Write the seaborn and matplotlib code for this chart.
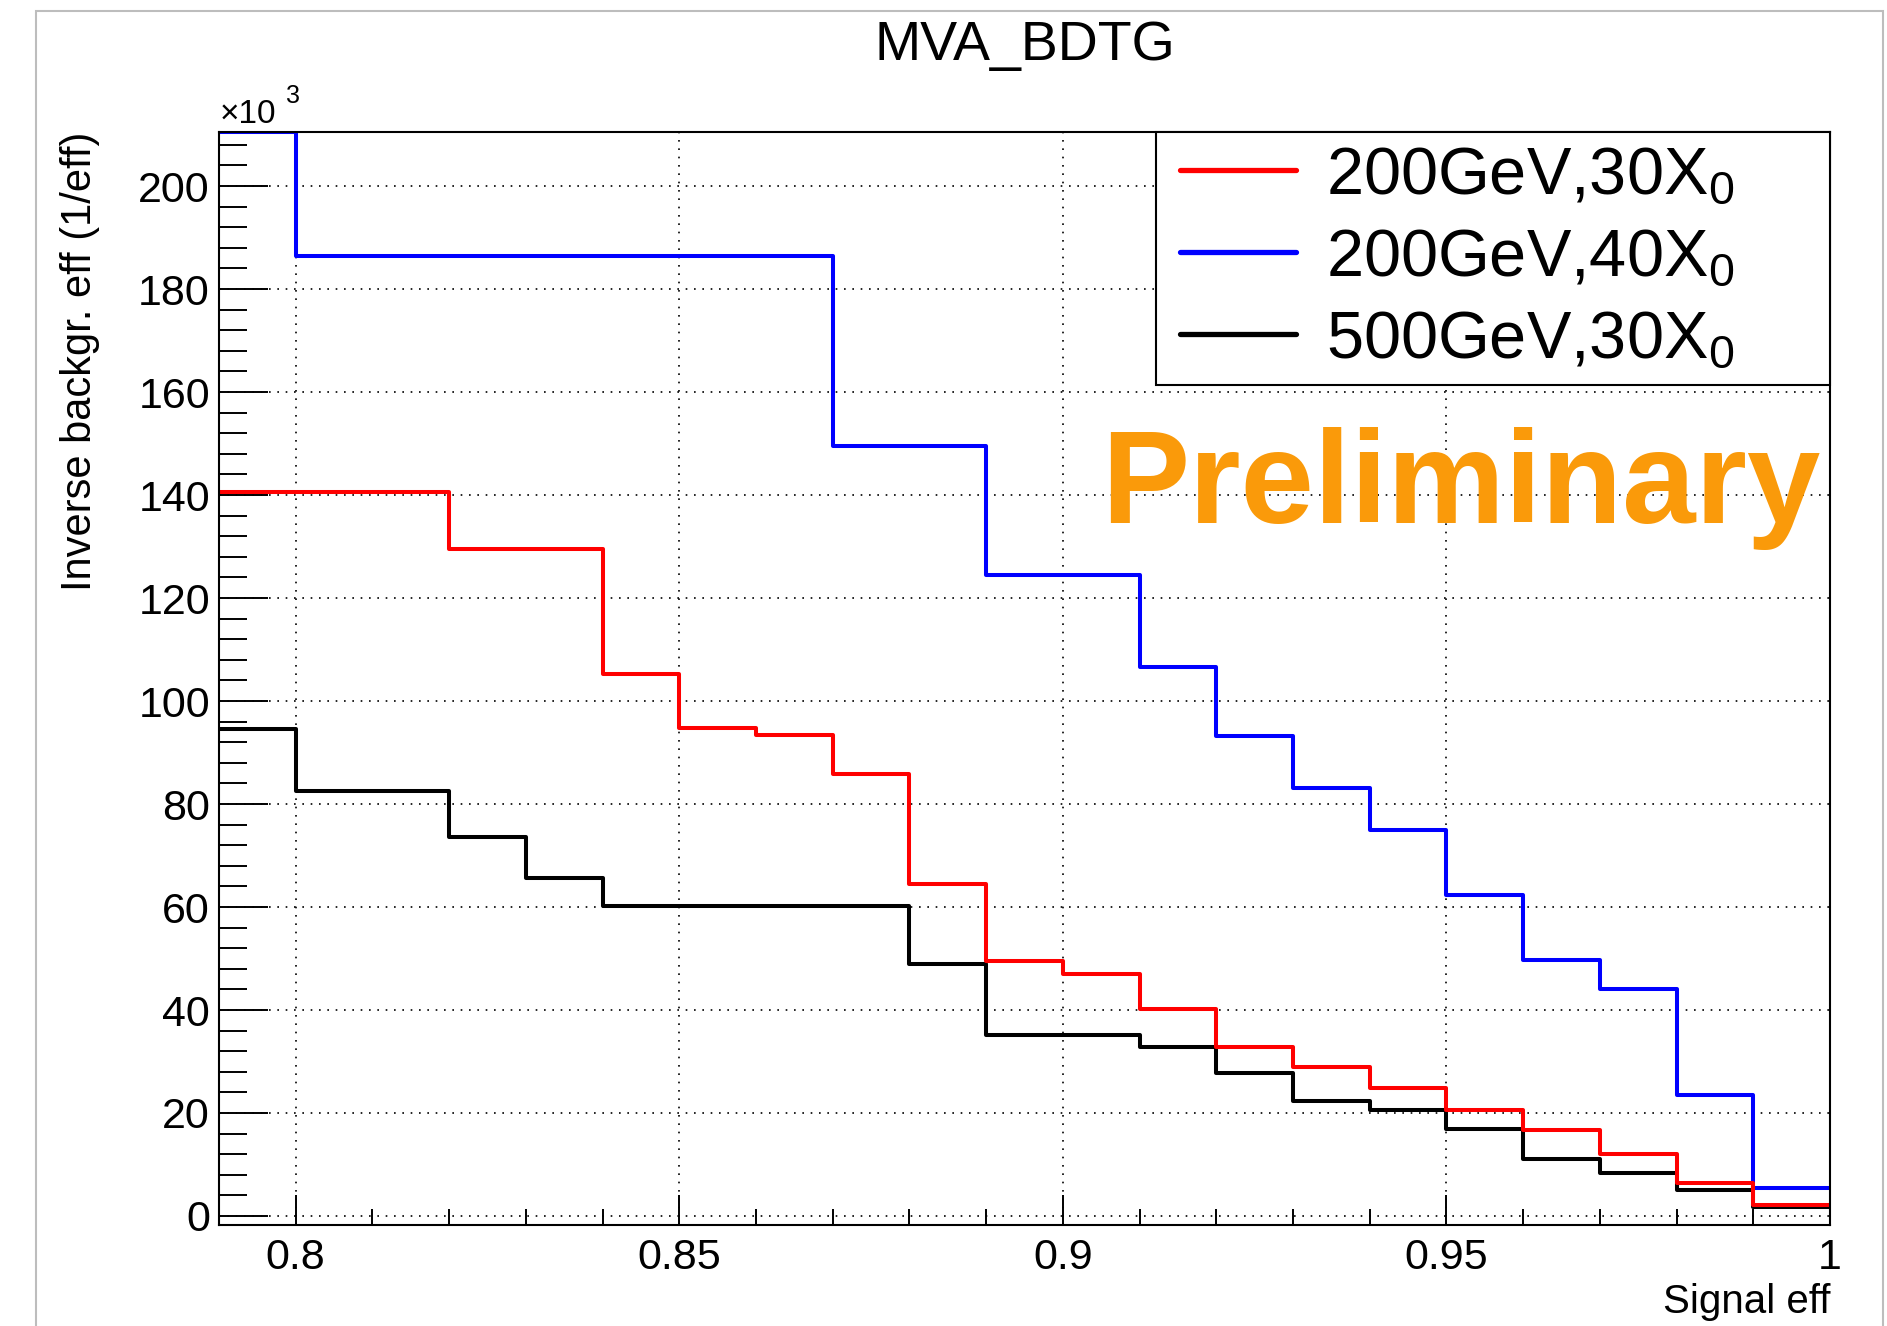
import matplotlib
matplotlib.use("Agg")
import matplotlib.pyplot as plt
from matplotlib.patches import Rectangle
from matplotlib.ticker import MultipleLocator, FuncFormatter
import pandas as pd
import seaborn as sns

# Signal-efficiency bin edges (0.01 wide) for the TMVA BDTG response
bin_edges = [0.79, 0.80, 0.81, 0.82, 0.83, 0.84, 0.85, 0.86, 0.87, 0.88, 0.89,
             0.90, 0.91, 0.92, 0.93, 0.94, 0.95, 0.96, 0.97, 0.98, 0.99, 1.00]

series_labels = ["200GeV,30X$_0$", "200GeV,40X$_0$", "500GeV,30X$_0$"]
series_colors = ["#ff0000", "#0000ff", "#000000"]

# Inverse background efficiency (1/eff), in units of 10^3, one value per bin
inv_bkg_200gev_30x0 = [140.5, 140.5, 140.5, 129.5, 129.5, 105.3, 94.7, 93.5, 85.8, 64.4,
                       49.6, 46.9, 40.2, 32.9, 28.9, 24.9, 20.5, 16.7, 12.1, 6.5, 2.1]
inv_bkg_200gev_40x0 = [210.5, 186.5, 186.5, 186.5, 186.5, 186.5, 186.5, 186.5, 149.5, 149.5,
                       124.4, 124.4, 106.6, 93.2, 83.1, 74.9, 62.4, 49.8, 44.1, 23.4, 5.4]
inv_bkg_500gev_30x0 = [94.5, 82.6, 82.6, 73.5, 65.7, 60.1, 60.1, 60.1, 60.1, 49.0,
                       35.1, 35.1, 32.9, 27.8, 22.3, 20.6, 16.8, 11.1, 8.3, 5.0, 1.7]

rows = []
for label, values in zip(series_labels,
                         [inv_bkg_200gev_30x0, inv_bkg_200gev_40x0, inv_bkg_500gev_30x0]):
    for lo, hi, v in zip(bin_edges[:-1], bin_edges[1:], values):
        rows.append({"Signal eff": 0.5 * (lo + hi), "inv_eff": v, "sample": label})
df = pd.DataFrame(rows)

sns.set_style("ticks")
plt.rcParams["font.family"] = ["Liberation Sans", "DejaVu Sans"]
plt.rcParams["mathtext.fontset"] = "custom"
plt.rcParams["mathtext.rm"] = "Liberation Sans"
plt.rcParams["mathtext.it"] = "Liberation Sans:italic"
plt.rcParams["mathtext.bf"] = "Liberation Sans:bold"
plt.rcParams["mathtext.default"] = "regular"
plt.rcParams["text.color"] = "black"
plt.rcParams["axes.labelcolor"] = "black"
plt.rcParams["xtick.color"] = "black"
plt.rcParams["ytick.color"] = "black"

fig = plt.figure(figsize=(18.87, 13.26), dpi=100)
fig.patch.set_facecolor("white")
ax = fig.add_axes([0.11606, 0.07617, 0.85374, 0.82428])

sns.histplot(data=df, x="Signal eff", weights="inv_eff", hue="sample",
             hue_order=series_labels, palette=series_colors, bins=bin_edges,
             element="step", fill=False, linewidth=2.9, ax=ax)

ax.set_xlim(0.79, 1.0)
ax.set_ylim(-1.75, 210.5)

# ROOT-like axes: inward ticks on left/bottom only, dotted major grid
ax.xaxis.set_major_locator(MultipleLocator(0.05))
ax.xaxis.set_minor_locator(MultipleLocator(0.01))
ax.yaxis.set_major_locator(MultipleLocator(20))
ax.yaxis.set_minor_locator(MultipleLocator(4))
ax.xaxis.set_major_formatter(FuncFormatter(lambda v, p: f"{v:g}"))
ax.yaxis.set_major_formatter(FuncFormatter(lambda v, p: f"{v:g}"))

ax.tick_params(axis="y", which="major", direction="in", length=35, width=1.4,
               labelsize=31, pad=6.5, left=True, right=False)
ax.tick_params(axis="y", which="minor", direction="in", length=20, width=1.4,
               left=True, right=False)
ax.tick_params(axis="x", which="major", direction="in", length=21.6, width=1.4,
               labelsize=31, pad=9.5, bottom=True, top=False)
ax.tick_params(axis="x", which="minor", direction="in", length=11.3, width=1.4,
               bottom=True, top=False)

ax.grid(True, which="major", color="black", linestyle=(0, (1, 4)), linewidth=1.2)
ax.set_axisbelow(True)
for sp in ax.spines.values():
    sp.set_visible(True)
    sp.set_color("black")
    sp.set_linewidth(1.5)

ax.set_title("MVA_BDTG", fontsize=40, pad=52)
ax.set_ylabel("Inverse backgr. eff (1/eff)", fontsize=30, loc="top")
ax.yaxis.set_label_coords(-0.0739, 1.0)
ax.set_xlabel("Signal eff", fontsize=29, loc="right")
ax.xaxis.label.set_verticalalignment("baseline")
ax.xaxis.set_label_coords(1.0, -0.0805)

# axis multiplier
fig.text(220 / 1887, 1 - 123 / 1326, "×10", fontsize=24, ha="left", va="baseline")
fig.text(286 / 1887, 1 - 103 / 1326, "3", fontsize=18, ha="left", va="baseline")

ax.text(0.5475, 0.6423, "Preliminary", transform=ax.transAxes, fontsize=95,
        fontweight="bold", color="#fa9a0a", ha="left", va="baseline", zorder=5)

# legend box in the upper right corner of the frame
leg_x0, leg_y0, leg_w, leg_h = 0.5816, 0.7685, 0.4184, 0.2315
ax.add_patch(Rectangle((leg_x0, leg_y0), leg_w, leg_h, transform=ax.transAxes,
                       facecolor="white", edgecolor="black", linewidth=1.5,
                       zorder=5.9, clip_on=False))
inset = 0.0068
sns.move_legend(ax, loc="upper left",
                bbox_to_anchor=(leg_x0 + inset, 0.0, leg_w - inset, 1.0),
                mode="expand", borderaxespad=0, title=None, frameon=False,
                fontsize=48, handlelength=1.74, handletextpad=0.45,
                borderpad=0.2, labelspacing=0.3)
leg = ax.get_legend()
leg.set_zorder(6)
for h in leg.legend_handles:
    h.set_linewidth(3.8)

# canvas border
fig.add_artist(Rectangle((36 / 1887, -0.05), (1883 - 36) / 1887, 1 - 11 / 1326 + 0.05,
                         transform=fig.transFigure, fill=False,
                         edgecolor="#bdbdbd", linewidth=1.5))

fig.savefig("out.png", dpi=100, facecolor="white")
